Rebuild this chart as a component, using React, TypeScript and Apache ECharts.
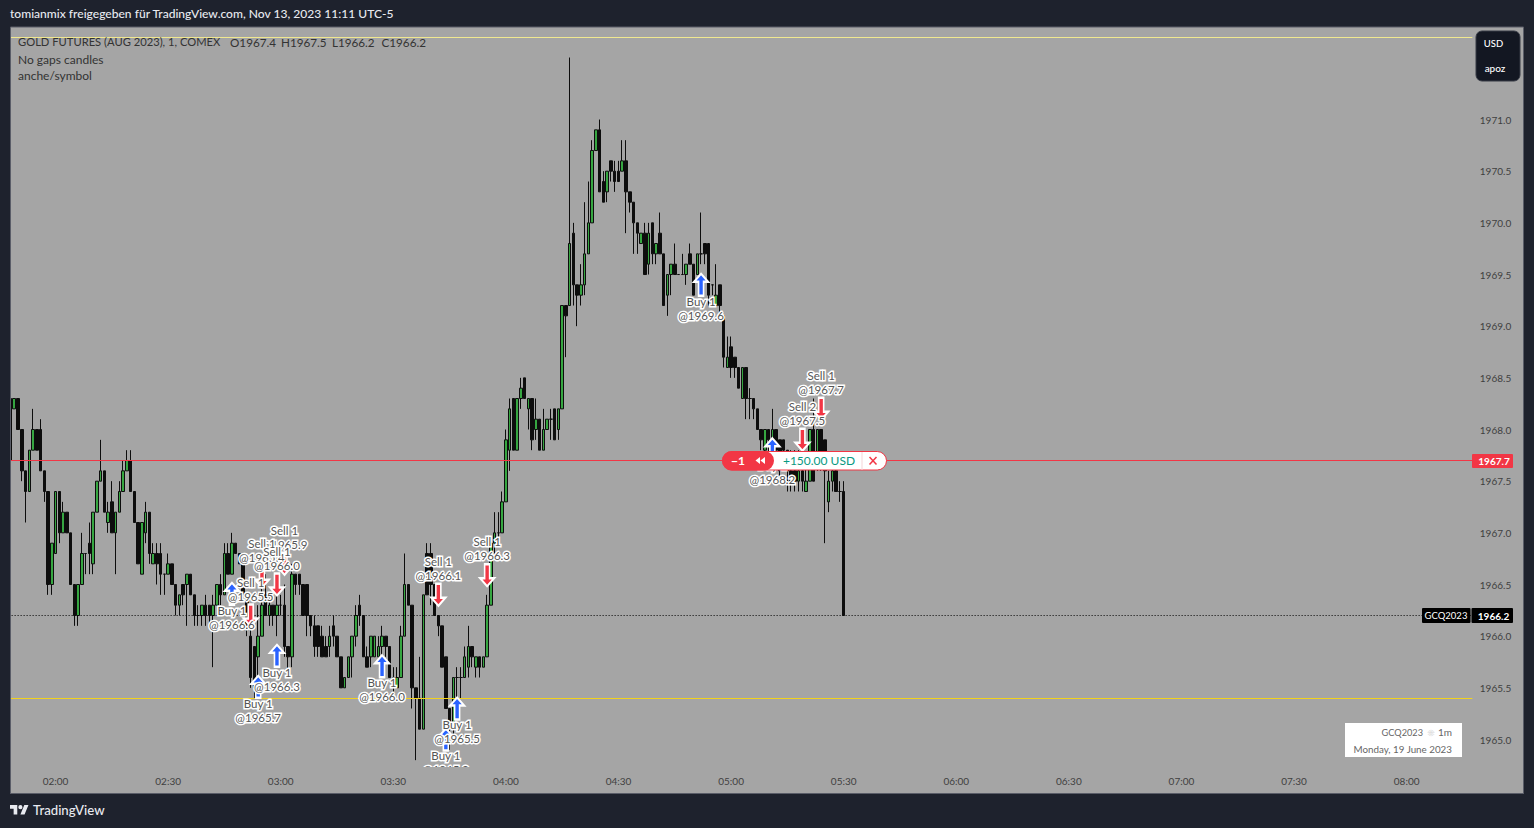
import React, { useEffect, useRef } from "react";
import * as echarts from "echarts";

const FONT = "Lato, 'Noto Sans', sans-serif";

const timeTicks = ["02:00","02:30","03:00","03:30","04:00","04:30","05:00","05:30","06:00","06:30","07:00","07:30","08:00"];
const priceTicks = [1965,1965.5,1966,1966.5,1967,1967.5,1968,1968.5,1969,1969.5,1970,1970.5,1971];

// open, close, low, high; one row per minute starting at 01:48
const candles: number[][] = [
[1967.7,1968.3,1967.7,1968.3],[1968.2,1968.3,1968.2,1968.3],[1968.3,1968.0,1968.0,1968.3],[1968.0,1967.6,1967.5,1968.0],
[1967.6,1967.4,1967.1,1967.6],[1967.4,1967.8,1967.4,1967.8],[1967.8,1968.0,1967.8,1968.2],[1968.0,1967.8,1967.8,1968.0],
[1968.0,1967.6,1967.6,1968.1],[1967.6,1967.4,1967.3,1967.6],[1967.4,1966.5,1966.4,1967.4],[1966.5,1966.9,1966.4,1966.9],
[1966.8,1967.4,1966.8,1967.4],[1967.4,1967.0,1966.9,1967.4],[1967.0,1967.2,1967.0,1967.3],[1967.2,1967.0,1967.0,1967.2],
[1967.0,1966.5,1966.5,1967.0],[1966.5,1966.2,1966.1,1966.5],[1966.2,1966.5,1966.1,1966.5],[1966.5,1966.8,1966.5,1967.0],
[1966.8,1966.8,1966.6,1966.8],[1966.9,1966.8,1966.6,1967.1],[1966.7,1967.2,1966.6,1967.2],[1967.2,1967.5,1967.2,1967.5],
[1967.5,1967.6,1967.5,1967.9],[1967.6,1967.2,1967.2,1967.6],[1967.1,1967.2,1967.0,1967.3],[1967.3,1967.0,1967.0,1967.5],
[1967.0,1967.2,1966.6,1967.2],[1967.2,1967.4,1967.2,1967.5],[1967.4,1967.6,1967.4,1967.7],[1967.6,1967.7,1967.6,1967.8],
[1967.7,1967.4,1967.4,1967.8],[1967.4,1967.1,1967.1,1967.4],[1967.1,1966.7,1966.7,1967.1],[1966.6,1967.1,1966.6,1967.1],
[1967.0,1967.2,1966.9,1967.3],[1967.2,1966.8,1966.7,1967.2],[1966.7,1966.8,1966.7,1966.9],[1966.8,1966.7,1966.5,1966.9],
[1966.8,1966.6,1966.4,1966.9],[1966.6,1966.6,1966.4,1966.6],[1966.6,1966.7,1966.6,1966.8],[1966.7,1966.5,1966.5,1966.7],
[1966.5,1966.3,1966.2,1966.5],[1966.3,1966.4,1966.2,1966.4],[1966.5,1966.4,1966.3,1966.5],[1966.5,1966.6,1966.1,1966.6],
[1966.6,1966.4,1966.4,1966.6],[1966.4,1966.2,1966.1,1966.4],[1966.2,1966.2,1966.1,1966.3],[1966.2,1966.3,1966.1,1966.3],
[1966.3,1966.2,1966.1,1966.4],[1966.3,1966.2,1966.1,1966.3],[1966.2,1966.3,1965.7,1966.4],[1966.3,1966.5,1966.3,1966.5],
[1966.5,1966.4,1966.3,1966.6],[1966.4,1966.8,1966.4,1966.9],[1966.8,1966.6,1966.6,1966.9],[1966.6,1966.9,1966.6,1967.0],
[1966.9,1966.8,1966.8,1966.9],[1966.8,1966.7,1966.7,1966.8],[1966.7,1966.4,1966.4,1966.7],[1966.4,1966.1,1966.0,1966.4],
[1966.0,1965.6,1965.5,1966.1],[1965.9,1965.5,1965.4,1965.9],[1965.8,1966.0,1965.6,1966.3],[1966.0,1966.3,1966.0,1966.5],
[1966.4,1966.2,1966.2,1966.6],[1966.2,1966.3,1966.1,1966.4],[1966.3,1966.2,1966.1,1966.3],[1966.2,1966.3,1966.0,1966.5],
[1966.3,1966.3,1966.2,1966.4],[1966.3,1965.9,1965.8,1966.5],[1965.9,1965.8,1965.6,1965.9],[1965.8,1966.6,1965.7,1966.7],
[1966.6,1966.5,1966.4,1966.6],[1966.6,1966.5,1966.4,1966.6],[1966.5,1966.2,1966.2,1966.5],[1966.5,1966.2,1966.0,1966.5],
[1966.2,1966.1,1966.0,1966.2],[1966.1,1965.9,1965.8,1966.2],[1966.1,1965.9,1965.8,1966.1],[1966.0,1965.8,1965.8,1966.1],
[1965.9,1965.8,1965.8,1966.0],[1965.9,1966.0,1965.8,1966.1],[1966.1,1966.0,1965.9,1966.2],[1966.0,1965.8,1965.8,1966.0],
[1965.8,1965.5,1965.5,1965.8],[1965.5,1965.6,1965.5,1965.6],[1965.6,1965.8,1965.6,1965.8],[1965.8,1966.0,1965.6,1966.0],
[1966.0,1966.2,1965.9,1966.3],[1966.3,1966.2,1966.1,1966.4],[1966.2,1965.8,1965.8,1966.2],[1965.8,1965.7,1965.7,1965.9],
[1965.8,1966.0,1965.7,1966.0],[1965.8,1966.0,1965.8,1966.0],[1965.8,1965.9,1965.8,1966.0],[1965.9,1966.0,1965.8,1966.1],
[1966.0,1965.9,1965.8,1966.0],[1965.9,1965.6,1965.6,1965.9],[1965.6,1965.6,1965.4,1965.7],[1965.5,1965.6,1965.5,1965.7],
[1965.6,1966.0,1965.6,1966.1],[1966.0,1966.5,1966.0,1966.8],[1966.5,1966.3,1966.3,1966.5],[1966.3,1965.5,1965.3,1966.3],
[1965.5,1965.4,1964.8,1965.5],[1965.4,1965.1,1965.1,1965.8],[1965.1,1966.4,1965.1,1966.4],[1966.8,1966.4,1966.4,1966.9],
[1966.8,1966.5,1966.3,1966.9],[1966.5,1966.2,1966.2,1966.5],[1966.2,1966.1,1966.0,1966.2],[1966.1,1965.7,1965.7,1966.1],
[1965.8,1965.3,1965.3,1965.8],[1965.3,1965.1,1964.9,1965.3],[1965.1,1965.6,1965.0,1965.6],[1965.6,1965.6,1965.4,1965.7],
[1965.6,1965.6,1965.4,1965.7],[1965.6,1965.8,1965.6,1965.9],[1965.7,1965.9,1965.6,1966.1],[1965.9,1965.8,1965.7,1965.9],
[1965.7,1965.8,1965.6,1965.8],[1965.8,1965.7,1965.6,1965.8],[1965.7,1965.8,1965.7,1965.8],[1965.8,1966.3,1965.8,1966.4],
[1966.3,1966.9,1966.3,1966.9],[1966.9,1967.0,1966.8,1967.2],[1967.0,1967.0,1966.9,1967.2],[1967.0,1967.3,1967.0,1967.4],
[1967.3,1967.9,1967.3,1968.0],[1967.8,1968.2,1967.6,1968.3],[1968.3,1967.8,1967.8,1968.3],[1967.8,1968.3,1967.8,1968.3],
[1968.3,1968.4,1968.2,1968.5],[1968.5,1968.3,1968.3,1968.5],[1968.2,1968.3,1968.0,1968.3],[1968.3,1967.9,1967.8,1968.3],
[1968.0,1968.1,1967.9,1968.3],[1968.1,1967.8,1967.8,1968.1],[1967.8,1968.0,1967.8,1968.2],[1968.0,1968.1,1968.0,1968.1],
[1968.1,1968.1,1967.9,1968.2],[1968.2,1967.9,1967.9,1968.2],[1968.0,1968.2,1967.9,1968.2],[1968.2,1969.2,1968.2,1969.2],
[1969.2,1969.1,1968.7,1969.2],[1969.2,1969.8,1969.2,1971.6],[1969.9,1969.4,1969.2,1970.0],[1969.4,1969.3,1969.0,1969.4],
[1969.3,1969.4,1969.2,1969.6],[1969.4,1969.7,1969.3,1970.2],[1969.7,1970.0,1969.7,1970.4],[1970.0,1970.7,1970.0,1970.8],
[1970.7,1970.9,1970.7,1970.9],[1970.9,1970.3,1970.3,1971.0],[1970.4,1970.2,1970.2,1970.5],[1970.3,1970.5,1970.2,1970.5],
[1970.6,1970.5,1970.4,1970.6],[1970.5,1970.4,1970.3,1970.6],[1970.5,1970.4,1970.4,1970.6],[1970.5,1970.6,1970.5,1970.8],
[1970.6,1970.3,1969.9,1970.8],[1970.3,1970.2,1970.1,1970.3],[1970.2,1970.0,1969.7,1970.2],[1970.0,1969.9,1969.7,1970.0],
[1969.8,1969.9,1969.8,1969.9],[1969.9,1969.5,1969.5,1970.0],[1969.6,1969.9,1969.5,1970.0],[1970.0,1969.7,1969.6,1970.0],
[1969.7,1969.8,1969.6,1969.8],[1969.9,1969.7,1969.7,1970.1],[1969.7,1969.2,1969.2,1969.7],[1969.3,1969.5,1969.1,1969.5],
[1969.5,1969.6,1969.3,1969.6],[1969.6,1969.5,1969.5,1969.8],[1969.5,1969.5,1969.5,1969.5],[1969.5,1969.5,1969.5,1969.7],
[1969.5,1969.6,1969.4,1969.6],[1969.7,1969.6,1969.6,1969.8],[1969.6,1969.3,1969.3,1969.6],[1969.5,1969.7,1969.5,1969.7],
[1969.7,1969.7,1969.6,1970.1],[1969.8,1969.7,1969.6,1969.8],[1969.8,1969.3,1969.2,1969.8],[1969.4,1969.4,1969.3,1969.4],
[1969.2,1969.3,1969.2,1969.6],[1969.4,1969.2,1969.1,1969.4],[1969.1,1968.7,1968.6,1969.1],[1968.6,1968.7,1968.6,1968.9],
[1968.8,1968.6,1968.5,1968.9],[1968.7,1968.6,1968.5,1968.7],[1968.6,1968.4,1968.4,1968.6],[1968.3,1968.6,1968.3,1968.6],
[1968.6,1968.3,1968.1,1968.6],[1968.3,1968.3,1968.1,1968.4],[1968.3,1968.2,1968.1,1968.3],[1968.2,1968.0,1968.0,1968.2],
[1968.0,1967.9,1967.8,1968.0],[1967.8,1968.0,1967.7,1968.0],[1968.0,1967.9,1967.7,1968.0],[1967.9,1968.0,1967.7,1968.2],
[1968.0,1967.8,1967.7,1968.0],[1967.9,1967.6,1967.5,1967.9],[1967.9,1967.8,1967.6,1967.9],[1967.8,1967.6,1967.4,1967.8],
[1967.6,1967.5,1967.4,1967.8],[1967.6,1967.5,1967.4,1967.8],[1967.5,1967.6,1967.4,1967.8],[1967.6,1967.5,1967.4,1967.8],
[1967.4,1967.5,1967.4,1967.7],[1967.5,1968.0,1967.5,1968.0],[1968.0,1967.5,1967.5,1968.3],[1967.7,1968.0,1967.6,1968.0],
[1968.0,1967.7,1967.6,1968.0],[1967.9,1967.6,1966.9,1967.9],[1967.3,1967.5,1967.2,1967.6],[1967.5,1967.6,1967.4,1967.7],
[1967.6,1967.4,1967.4,1967.7],[1967.4,1967.4,1967.3,1967.5],[1967.4,1966.2,1966.2,1967.5],
];

// trades: bar index, price where the arrow sits, text
const buyIndex = [59, 66, 71, 99, 116, 119, 184, 203];
const buyLevel = [1966.41, 1965.51, 1965.81, 1965.71, 1965.0, 1965.3, 1969.4, 1967.81];
const buyText = ["Buy 1\n@1966.6","Buy 1\n@1965.7","Buy 1\n@1966.3","Buy 1\n@1966.0","Buy 1\n@1965.3","Buy 1\n@1965.5","Buy 1\n@1969.6","Buy 1\n@1968.2"];
const sellIndex = [73, 67, 71, 64, 114, 127, 211, 216];
const sellLevel = [1966.7, 1966.575, 1966.5, 1966.2, 1966.4, 1966.59, 1967.9, 1968.2];
const sellText = ["Sell 1\n@1965.9","Sell 1\n@1965.4","Sell 1\n@1966.0","Sell 1\n@1965.5","Sell 1\n@1966.1","Sell 1\n@1966.3","Sell 2\n@1967.5","Sell 1\n@1967.7"];

const positionLevel = 1967.7;
const lastLevel = 1966.2;
const yellowLevels = [1965.4, 1971.8];

// categories: 390 one-minute slots from 01:48
const categories: string[] = [];
for (let i = 0; i < 390; i++) {
  const m = 108 + i;
  categories.push(String(Math.floor(m / 60)).padStart(2, "0") + ":" + String(m % 60).padStart(2, "0"));
}

const DARK = "#1e222d";
const PANE = "#a5a5a5";
const RED = "#f23645";

const ARROW = "path://M7 0 L14 8 L9.5 8 L9.5 22 L4.5 22 L4.5 8 L0 8 Z";

echarts.graphic.registerShape("tvlogo", echarts.graphic.extendPath("M14 22H7V11H0V4h14v18zM28 22h-8l7.5-18h8L28 22zM24 8a4 4 0 1 1-8 0 4 4 0 0 1 8 0z", {}));

function txt(x: number, y: number, text: string, fill: string, size = 11, align = "left", weight: any = "normal", z = 110) {
  return { type: "text", x, y, z, silent: true, style: { text, fill, font: `${weight} ${size}px ${FONT}`, align, verticalAlign: "middle" } };
}
function box(x: number, y: number, w: number, h: number, fill: string, z = 100, r: any = 0, stroke?: string) {
  return { type: "rect", z, silent: true, shape: { x, y, width: w, height: h, r }, style: { fill, stroke: stroke ?? undefined, lineWidth: stroke ? 1 : 0 } };
}

function buildGraphic() {
  return [
    // clip strip under the plot, above the trade labels, below the time axis
    box(11, 767, 1512, 26, PANE, 30),
    // frame
    box(0, 0, 1534, 27, DARK),
    box(0, 793.5, 1534, 35, DARK),
    box(0, 0, 10, 828, DARK),
    box(1524, 0, 10, 828, DARK),
    { type: "rect", z: 101, silent: true, shape: { x: 10.5, y: 27, width: 1513, height: 766.5 }, style: { fill: "none", stroke: "#5a5d68", lineWidth: 1 } },
    txt(10, 13, "tomianmix freigegeben für TradingView.com, Nov 13, 2023 11:11 UTC-5", "#e8eaf0", 12.05, "left", 500),
    { type: "tvlogo", x: 10, y: 803, scaleX: 0.52, scaleY: 0.52, z: 110, silent: true, style: { fill: "#e8eaf0" } },
    txt(33, 810, "TradingView", "#e8eaf0", 13.2, "left", 500),
    // legend
    txt(18, 41.5, "GOLD FUTURES (AUG 2023), 1, COMEX", "#333333", 11.2),
    txt(230, 41.5, "O1967.4", "#333333", 11.7),
    txt(281, 41.5, "H1967.5", "#333333", 11.7),
    txt(332, 41.5, "L1966.2", "#333333", 11.7),
    txt(381.5, 41.5, "C1966.2", "#333333", 11.7),
    txt(18, 59, "No gaps candles", "#333333", 12),
    txt(18, 75.5, "anche/symbol", "#333333", 12),
    // currency box
    box(1476, 31, 44, 50, "#131722", 105, 6, "#363a45"),
    txt(1493.5, 43.5, "USD", "#ffffff", 9.5, "center", 500),
    txt(1495, 67.5, "apoz", "#ffffff", 10, "center", 500),
    // price tags
    box(1472, 454, 41, 14, RED, 105, 1),
    txt(1494, 461, "1967.7", "#ffffff", 10, "center", "bold"),
    box(1422, 608, 48.5, 15, "#000000", 105, 1),
    txt(1446, 615.5, "GCQ2023", "#ffffff", 9.5, "center"),
    box(1471.5, 608, 41.5, 15, "#000000", 105, 1),
    txt(1493.5, 615.5, "1966.2", "#ffffff", 10, "center", "bold"),
    // symbol stamp
    box(1345, 723, 117, 34, "#ffffff", 105),
    txt(1423, 732, "GCQ2023", "#666666", 9.2, "right"),
    txt(1431, 732, "☀", "#cccccc", 9, "center"),
    txt(1452, 732, "1m", "#666666", 10, "right"),
    txt(1452, 749, "Monday, 19 June 2023", "#666666", 9.8, "right"),
    // position pill
    box(722.5, 451.5, 164, 18.5, "#ffffff", 105, 9.25, RED),
    box(722, 451, 52, 19.5, RED, 106, 9.75),
    txt(738, 460.5, "−1", "#ffffff", 12, "center", "bold"),
    { type: "polygon", z: 107, silent: true, shape: { points: [[760, 457], [760, 464], [755.5, 460.5]] }, style: { fill: "#ffffff" } },
    { type: "polygon", z: 107, silent: true, shape: { points: [[765, 457], [765, 464], [760.5, 460.5]] }, style: { fill: "#ffffff" } },
    txt(819, 460.5, "+150.00 USD", "#089981", 12, "center", "normal"),
    { type: "line", z: 107, silent: true, shape: { x1: 862, y1: 452, x2: 862, y2: 470 }, style: { stroke: "#f5d5d8", lineWidth: 1 } },
    { type: "line", z: 107, silent: true, shape: { x1: 869.5, y1: 457, x2: 876.5, y2: 464.5 }, style: { stroke: RED, lineWidth: 1.5 } },
    { type: "line", z: 107, silent: true, shape: { x1: 876.5, y1: 457, x2: 869.5, y2: 464.5 }, style: { stroke: RED, lineWidth: 1.5 } },
  ];
}

const tradeLabel = (position: string, distance: number) => ({
  show: true,
  position,
  distance,
  formatter: "{b}",
  color: "#555555",
  fontFamily: FONT,
  fontSize: 11.5,
  lineHeight: 14,
  textBorderColor: "#ffffff",
  textBorderWidth: 3,
});

export default function App() {
  const ref = useRef<HTMLDivElement>(null);
  useEffect(() => {
    document.body.style.margin = "0";
    document.body.style.background = DARK;
    const chart = echarts.init(ref.current!, undefined, { renderer: "svg" });
    chart.setOption({
      animation: false,
      backgroundColor: PANE,
      textStyle: { fontFamily: FONT },
      grid: { left: 8.62, top: 16.19, width: 1463.7, height: 774.98, containLabel: false },
      xAxis: {
        type: "category",
        data: categories,
        z: 50,
        boundaryGap: true,
        axisLine: { show: false },
        axisTick: { show: false },
        splitLine: { show: false },
        axisLabel: {
          inside: true,
          margin: 5,
          color: "#3f3f3f",
          fontFamily: FONT,
          fontSize: 10,
          hideOverlap: false,
          interval: (_: number, v: string) => timeTicks.includes(v),
        },
      },
      yAxis: {
        type: "value",
        position: "right",
        min: 1964.5,
        max: 1972,
        z: 50,
        axisLine: { show: false },
        axisTick: { show: false },
        splitLine: { show: false },
        axisLabel: {
          customValues: priceTicks,
          margin: 7.5,
          color: "#3f3f3f",
          fontFamily: FONT,
          fontSize: 10,
          formatter: (v: number) => v.toFixed(1),
        },
      },
      series: [
        {
          type: "candlestick",
          z: 3,
          barWidth: 3,
          data: candles,
          silent: true,
          itemStyle: { color: "#36a641", color0: "#0d0d0d", borderColor: "#0d0d0d", borderColor0: "#0d0d0d", borderWidth: 1 },
          markLine: {
            silent: true,
            symbol: "none",
            z: 6,
            animation: false,
            label: { show: false },
            data: [
              { yAxis: positionLevel, lineStyle: { color: RED, width: 1, type: "solid" } },
              { yAxis: lastLevel, lineStyle: { color: "#000000", width: 1, type: [1, 2] } },
              { yAxis: yellowLevels[0], lineStyle: { color: "#f2d21c", width: 1, type: "solid" } },
              { yAxis: yellowLevels[1], lineStyle: { color: "#f0e890", width: 1, type: "solid" } },
            ],
          },
        },
        {
          type: "scatter",
          z: 10,
          symbol: ARROW,
          symbolSize: [14, 22],
          silent: true,
          itemStyle: { color: "#2962ff", borderColor: "#ffffff", borderWidth: 2, opacity: 1 },
          label: tradeLabel("bottom", -3),
          data: buyIndex.map((x, i) => ({ name: buyText[i], value: [x, buyLevel[i]] })),
        },
        {
          type: "scatter",
          z: 10,
          symbol: ARROW,
          symbolRotate: 180,
          symbolSize: [14, 22],
          silent: true,
          itemStyle: { color: RED, borderColor: "#ffffff", borderWidth: 2, opacity: 1 },
          label: tradeLabel("top", 0),
          data: sellIndex.map((x, i) => ({ name: sellText[i], value: [x, sellLevel[i]] })),
        },
      ],
      graphic: { elements: buildGraphic() },
    });
    return () => chart.dispose();
  }, []);
  return <div ref={ref} style={{ position: "absolute", left: 0, top: 0, width: 1534, height: 828 }} />;
}
